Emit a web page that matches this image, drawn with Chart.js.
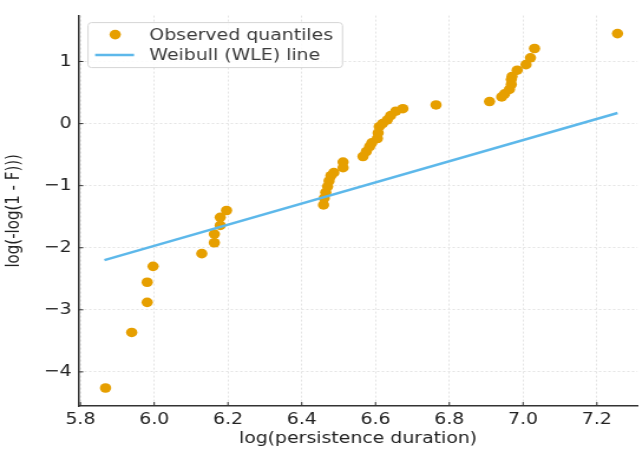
<!DOCTYPE html>
<html>
<head>
<meta charset="utf-8">
<script src="https://cdn.jsdelivr.net/npm/chart.js@4.4.1/dist/chart.umd.min.js"></script>
<style>
  html, body { margin: 0; padding: 0; background: #fff; overflow: hidden; }
  /* the reference is stretched sideways, so draw narrow and widen */
  #wrap { width: 545px; height: 450px; transform: scaleX(1.18); transform-origin: 0 0; }
</style>
</head>
<body>
<div id="wrap"><canvas id="weibullPlot" width="545" height="450"></canvas></div>
<script>
const logDuration = [5.868, 5.939, 5.981, 5.981, 5.997, 6.129, 6.163, 6.163, 6.179, 6.179, 6.196,
  6.459, 6.461, 6.465, 6.470, 6.474, 6.479, 6.487, 6.512, 6.512, 6.566, 6.575, 6.584, 6.590,
  6.605, 6.607, 6.610, 6.619, 6.632, 6.641, 6.655, 6.674,
  6.764, 6.909, 6.942, 6.950, 6.963, 6.968, 6.968, 6.970, 6.984, 7.008, 7.020, 7.031, 7.256];
const logLogF = [-4.26, -3.365, -2.88, -2.556, -2.30, -2.095, -1.92, -1.78, -1.64, -1.51, -1.40,
  -1.31, -1.20, -1.11, -1.015, -0.925, -0.84, -0.79, -0.71, -0.62, -0.53, -0.45, -0.37, -0.31,
  -0.24, -0.15, -0.05, 0.0, 0.06, 0.13, 0.20, 0.24,
  0.30, 0.355, 0.43, 0.48, 0.55, 0.63, 0.71, 0.76, 0.86, 0.95, 1.06, 1.21, 1.45];
const fitX = [5.865, 7.256];
const fitY = [-2.20, 0.17];

const FONT = '"DejaVu Sans", sans-serif';

// matplotlib-like inward tick marks on the spines
const innerTicks = {
  id: 'innerTicks',
  afterDraw(chart) {
    const { ctx, chartArea, scales } = chart;
    ctx.save();
    ctx.strokeStyle = '#333';
    ctx.lineWidth = 1;
    ctx.beginPath();
    scales.x.ticks.forEach(t => {
      const px = scales.x.getPixelForValue(t.value);
      ctx.moveTo(px, chartArea.bottom);
      ctx.lineTo(px, chartArea.bottom - 4);
    });
    scales.y.ticks.forEach(t => {
      const py = scales.y.getPixelForValue(t.value);
      ctx.moveTo(chartArea.left, py);
      ctx.lineTo(chartArea.left + 4, py);
    });
    ctx.stroke();
    ctx.restore();
  }
};

// legend box in the upper left corner of the plot
const legendBox = {
  id: 'legendBox',
  afterDraw(chart) {
    const { ctx, chartArea } = chart;
    const sets = chart.data.datasets;
    ctx.save();
    ctx.font = '16px ' + FONT;
    const x = chartArea.left + 8, y = chartArea.top + 7;
    const textW = Math.max(...sets.map(d => ctx.measureText(d.label).width));
    const w = 52 + textW + 8, h = 45;
    ctx.fillStyle = 'rgba(255,255,255,0.85)';
    ctx.strokeStyle = '#d5d5d5';
    ctx.lineWidth = 1;
    ctx.beginPath();
    ctx.roundRect(x, y, w, h, 3);
    ctx.fill();
    ctx.stroke();
    sets.forEach((d, i) => {
      const cy = y + 12 + i * 20.5;
      if (d.showLine) {
        ctx.strokeStyle = d.borderColor;
        ctx.lineWidth = d.borderWidth;
        ctx.beginPath();
        ctx.moveTo(x + 6, cy);
        ctx.lineTo(x + 39, cy);
        ctx.stroke();
      } else {
        ctx.fillStyle = d.backgroundColor;
        ctx.beginPath();
        ctx.arc(x + 23, cy, d.pointRadius, 0, Math.PI * 2);
        ctx.fill();
      }
      ctx.fillStyle = '#3a3a3a';
      ctx.textBaseline = 'middle';
      ctx.fillText(d.label, x + 52, cy + 1);
    });
    ctx.restore();
  }
};

const ctx = document.getElementById('weibullPlot').getContext('2d');
new Chart(ctx, {
  type: 'scatter',
  data: {
    datasets: [{
      label: 'Observed quantiles',
      data: logDuration.map((v, i) => ({ x: v, y: logLogF[i] })),
      backgroundColor: '#E69F00',
      borderWidth: 0,
      pointRadius: 4.8,
      order: 1
    }, {
      label: 'Weibull (WLE) line',
      data: fitX.map((v, i) => ({ x: v, y: fitY[i] })),
      showLine: true,
      borderColor: '#5DB8EA',
      borderWidth: 2.5,
      pointRadius: 0,
      order: 0
    }]
  },
  options: {
    responsive: false,
    animation: false,
    layout: { padding: { top: 10, right: 0, left: 0, bottom: 0 } },
    plugins: {
      legend: { display: false },
      tooltip: { enabled: false }
    },
    scales: {
      x: {
        type: 'linear',
        min: 5.795,
        max: 7.31,
        afterFit: s => { s.height = 44; },
        border: { color: '#333', width: 1.5, dash: [2, 2] },
        grid: { color: '#e4e4e4', drawTicks: false },
        ticks: {
          stepSize: 0.2,
          includeBounds: false,
          padding: 4,
          color: '#222',
          font: { family: FONT, size: 16 },
          callback: v => v.toFixed(1)
        },
        title: {
          display: true,
          text: 'log(persistence duration)',
          color: '#222',
          font: { family: FONT, size: 16 },
          padding: { top: 0, bottom: 2 }
        }
      },
      y: {
        min: -4.55,
        max: 1.74,
        afterFit: s => { s.width = 66.6; },
        border: { color: '#333', width: 1.5, dash: [2, 2] },
        grid: { color: '#e4e4e4', drawTicks: false },
        ticks: {
          stepSize: 1,
          includeBounds: false,
          padding: 6,
          color: '#222',
          font: { family: FONT, size: 16 },
          callback: v => (v < 0 ? '\u2212' + Math.abs(v) : String(v))
        },
        title: {
          display: true,
          text: 'log(-log(1 - F)))',
          color: '#222',
          font: { family: FONT, size: 15 },
          padding: { top: 3, bottom: 0 }
        }
      }
    }
  },
  plugins: [innerTicks, legendBox]
});
</script>
</body>
</html>
